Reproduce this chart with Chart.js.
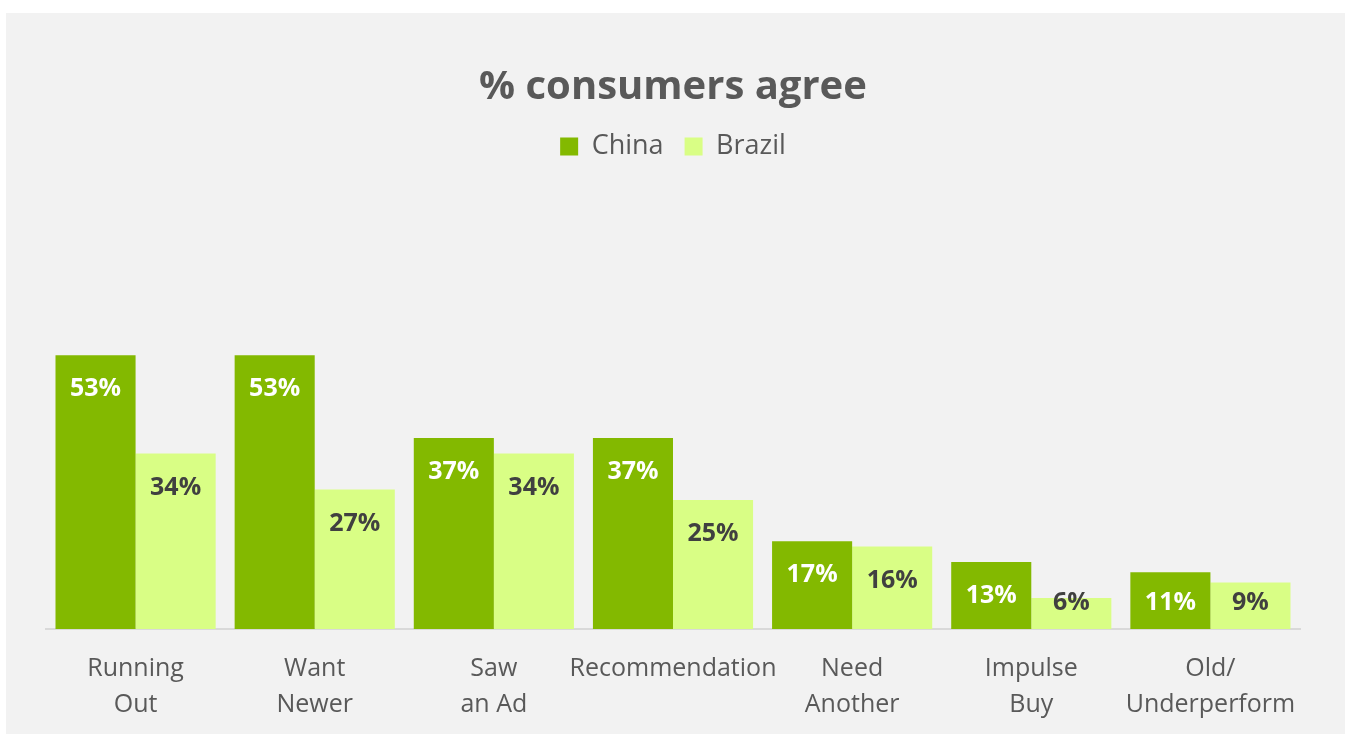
<!DOCTYPE html>
<html>
<head>
<meta charset="utf-8">
<script src="https://cdn.jsdelivr.net/npm/chart.js@4"></script>
<style>
  html, body { margin: 0; padding: 0; background: #ffffff; }
  #wrap { position: absolute; left: 6px; top: 13px; width: 1339px; height: 721px; background: #f2f2f2; }
  canvas { display: block; }
</style>
</head>
<body>
<div id="wrap"><canvas id="chart" width="1339" height="721"></canvas></div>
<script>
// Survey categories (multi-line axis labels)
const categories = [
  ['Running', 'Out'],
  ['Want', 'Newer'],
  ['Saw', 'an Ad'],
  ['Recommendation'],
  ['Need', 'Another'],
  ['Impulse', 'Buy'],
  ['Old/', 'Underperform']
];
// Share of consumers agreeing, in percent
const chinaValues = [53, 53, 37, 37, 17, 13, 11];
const brazilValues = [34, 27, 34, 25, 16, 6, 9];
const seriesNames = ['China', 'Brazil'];

const FONT = '"Open Sans", "Noto Sans", sans-serif';

// Writes each bar's value just inside its top end
const valueLabels = {
  id: 'valueLabels',
  afterDatasetsDraw(chart) {
    const ctx = chart.ctx;
    const base = chart.scales.y.getPixelForValue(0);
    ctx.save();
    ctx.font = 'bold 25px ' + FONT;
    ctx.textAlign = 'center';
    ctx.textBaseline = 'middle';
    chart.data.datasets.forEach((ds, i) => {
      const meta = chart.getDatasetMeta(i);
      ctx.fillStyle = i === 0 ? '#ffffff' : '#404040';
      meta.data.forEach((bar, j) => {
        const y = Math.min(bar.y + 34, base - 26);
        ctx.fillText(ds.data[j] + '%', bar.x, y);
      });
    });
    ctx.restore();
  }
};

new Chart(document.getElementById('chart'), {
  type: 'bar',
  data: {
    labels: categories,
    datasets: [
      { label: seriesNames[0], data: chinaValues, backgroundColor: '#83b900' },
      { label: seriesNames[1], data: brazilValues, backgroundColor: '#d9fe85' }
    ]
  },
  options: {
    responsive: false,
    animation: false,
    layout: { padding: { left: 40, right: 45, top: 0, bottom: -11 } },
    datasets: { bar: { barPercentage: 1, categoryPercentage: 0.894 } },
    plugins: {
      title: {
        display: true,
        text: '% consumers agree',
        color: '#595959',
        font: { family: FONT, size: 40, weight: 'bold' },
        padding: { top: 51, bottom: 0 }
      },
      legend: {
        display: true,
        labels: {
          color: '#595959',
          font: { family: FONT, size: 27 },
          boxWidth: 18,
          boxHeight: 18,
          padding: 21
        }
      },
      tooltip: { enabled: false }
    },
    scales: {
      x: {
        grid: { display: false, drawTicks: false },
        border: { display: true, color: '#d9d9d9', width: 2 },
        ticks: {
          color: '#595959',
          font: { family: FONT, size: 25, lineHeight: 1.44 },
          padding: 22,
          maxRotation: 0,
          autoSkip: false
        }
      },
      y: {
        display: false,
        min: 0,
        max: 88.9
      }
    }
  },
  plugins: [valueLabels]
});
</script>
</body>
</html>
